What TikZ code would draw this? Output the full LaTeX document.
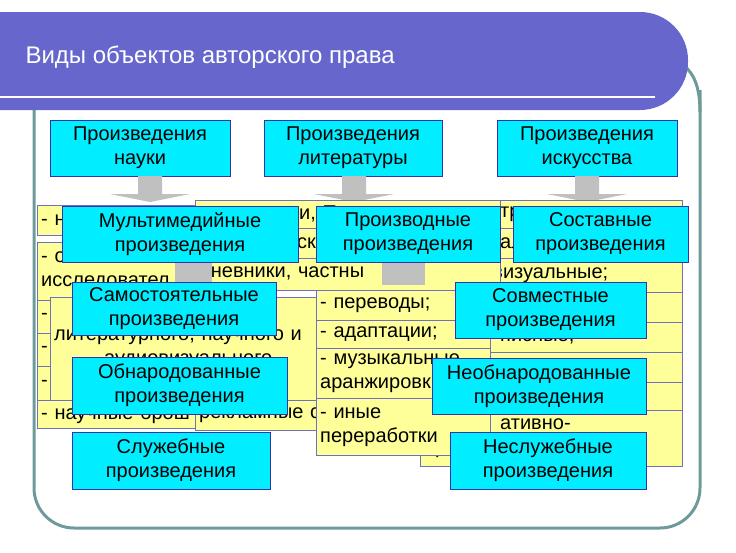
\documentclass[tikz,border=0pt]{standalone}
\usepackage{fontspec}
\setmainfont{Liberation Sans}
\definecolor{band}{HTML}{6666CC}
\definecolor{frame}{HTML}{6F9A9A}
\definecolor{cy}{HTML}{00EEFF}
\definecolor{yel}{HTML}{FFFF99}
\definecolor{bord}{HTML}{3333AA}
\definecolor{arr}{HTML}{C0C0C0}
\newcommand\yb[6]{\node[yb,minimum width={(#4-#2)*1pt},minimum height={(#5-#3)*1pt},text width={(#4-#2-8)*1pt}] (#1) at (#2,#3) {#6};}
\newcommand\cb[6]{\node[cb,minimum width={(#4-#2)*1pt},minimum height={(#5-#3)*1pt}] (#1) at ({(#2+#4)/2},{(#3+#5)/2}) {#6};}
\newcommand\ga[4]{\fill[arr] (#1-12,#2) rectangle (#1+12,#3-8) (#1-40,#3-8) -- (#1+40,#3-8) -- (#1,#3) -- cycle;}
\tikzset{
 yb/.style={draw=bord!70,fill=yel,anchor=north west,inner sep=4pt,align=left,font=\fontsize{20}{24}\selectfont},
 cb/.style={draw=bord,fill=cy,inner sep=2pt,align=center,font=\fontsize{20}{24}\selectfont}
}
\begin{document}
\begin{tikzpicture}[x=1pt,y=-1pt]
\useasboundingbox (0,0) rectangle (736,552);
\fill[white] (0,0) rectangle (736,552);
% frame
\draw[frame,line width=3pt,rounded corners=40pt] (34,90) -- (34,528) -- (700,528) -- (700,90);
\draw[frame,line width=3pt] (700,112) .. controls (700,80) and (690,70) .. (680,62);
% banner
\fill[band,rounded corners=48pt] (-80,12) rectangle (688,110);
\draw[white,line width=2pt] (0,97) -- (655,97);
\node[anchor=west,text=white,font=\fontsize{24}{28}\selectfont] (title) at (22,57) {Виды объектов авторского права};
% top boxes
\cb{sci}{50}{120}{230}{176}{Произведения\\науки}
\cb{lit}{264}{120}{442}{176}{Произведения\\литературы}
\cb{art}{497}{120}{677}{176}{Произведения\\искусства}
\ga{150}{176}{202}{}
\ga{354}{176}{202}{}
\ga{587}{176}{202}{}
% right column (art)
\yb{r1}{420}{200}{682}{228}{\hspace*{76pt}тр}
\yb{r2}{420}{228}{682}{258}{\hspace*{76pt}ал}
\yb{r3}{420}{258}{682}{292}{\hspace*{14pt}аудиовизуальные;}
\yb{r4}{420}{292}{682}{322}{}
\yb{r5}{420}{322}{682}{352}{\hspace*{76pt}писные;}
\yb{r6}{420}{352}{682}{382}{}
\yb{r7}{420}{382}{682}{410}{}
\yb{r8}{420}{410}{682}{466}{\hspace*{76pt}ативно-\\пр}
% middle column (literature)
\yb{m1}{195}{200}{500}{228}{\hspace*{100pt}и, П}
\yb{m2}{195}{228}{500}{258}{\hspace*{98pt}ск}
\yb{m3}{195}{258}{500}{290}{дневники, частны}
% left column (science)
\yb{l1}{37}{205}{195}{235}{- н}
\yb{l2}{37}{242}{195}{300}{- описание на\\исследовател}
\yb{l3}{37}{300}{195}{333}{-}
\yb{l4}{37}{333}{195}{366}{-}
\yb{l5}{37}{366}{195}{400}{-}
\yb{l6}{37}{400}{195}{428}{- научные брош}
\yb{mbig}{50}{297}{318}{400}{литературного, научного и\\ \hspace*{50pt}аудиовизуального}
\yb{m4}{195}{400}{330}{430}{рекламные с}
% derived list
\yb{d1}{316}{290}{490}{320}{- переводы;}
\yb{d2}{316}{320}{490}{348}{- адаптации;}
\yb{d3}{316}{348}{490}{398}{- музыкальные\\аранжировки}
\yb{d4}{316}{398}{490}{455}{- иные\\переработки}
% gray bits
\fill[arr] (175,262) rectangle (212,290);
\fill[arr] (382,262) rectangle (425,285);
% overlay boxes
\cb{mm}{62}{206}{298}{262}{Мультимедийные\\произведения}
\cb{pr}{316}{206}{500}{262}{Производные\\произведения}
\cb{so}{513}{206}{688}{262}{Составные\\произведения}
\cb{sa}{72}{282}{276}{335}{Самостоятельные\\произведения}
\cb{ob}{72}{357}{287}{414}{Обнародованные\\произведения}
\cb{sl}{72}{432}{270}{489}{Служебные\\произведения}
\cb{sv}{455}{282}{646}{338}{Совместные\\произведения}
\cb{no}{432}{358}{646}{414}{Необнародованные\\произведения}
\cb{ns}{450}{432}{646}{489}{Неслужебные\\произведения}
\end{tikzpicture}
\end{document}
